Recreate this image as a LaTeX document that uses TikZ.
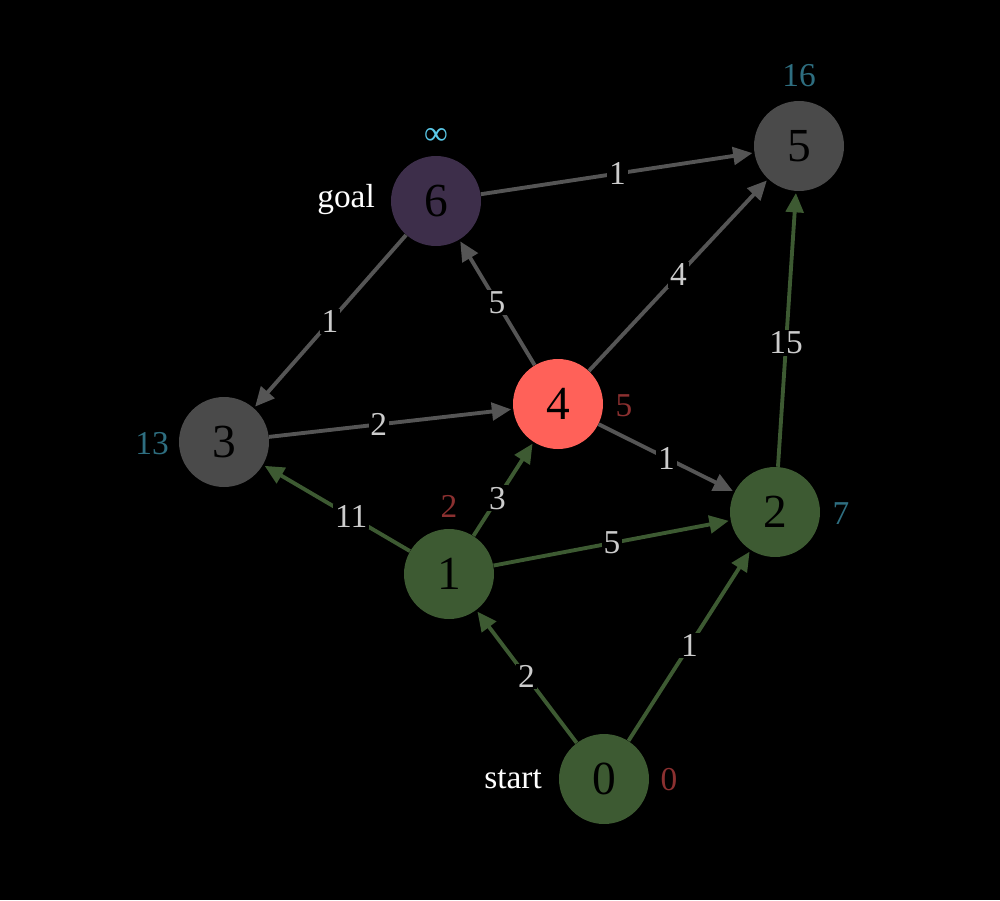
\documentclass[tikz,border=0pt]{standalone}
\usepackage{fontspec}
\setmainfont{Liberation Serif}
\usetikzlibrary{arrows.meta}
\definecolor{ngreen}{HTML}{3D5A32}
\definecolor{ngray}{HTML}{4A4A4A}
\definecolor{npurple}{HTML}{3D2E4A}
\definecolor{nred}{HTML}{FF6159}
\definecolor{egray}{HTML}{555555}
\definecolor{egreen}{HTML}{3D5A32}
\definecolor{lteal}{HTML}{2E6E80}
\definecolor{lred}{HTML}{8B3030}
\definecolor{lblue}{HTML}{5AC8E8}
\begin{document}
\begin{tikzpicture}[x=0.02cm,y=-0.02cm,
  vert/.style={circle,minimum size=1.8cm,inner sep=0pt,font=\fontsize{27}{30}\selectfont,text=black},
  ed/.style={line width=2.2pt,-{Triangle[length=11pt,width=10pt]},shorten >=1pt},
  ge/.style={ed,draw=egreen},
  ye/.style={ed,draw=egray},
  wl/.style={fill=black,inner sep=1pt,text=black!20,font=\fontsize{19}{21}\selectfont},
  dl/.style={font=\fontsize{19}{21}\selectfont}]
\fill[black] (0,0) rectangle (1000,900);
\node[vert,fill=ngreen] (n0) at (604,779) {0};
\node[vert,fill=ngreen] (n1) at (449,574) {1};
\node[vert,fill=ngreen] (n2) at (775,512) {2};
\node[vert,fill=ngray] (n3) at (224,442) {3};
\node[vert,fill=nred] (n4) at (558,404) {4};
\node[vert,fill=ngray] (n5) at (799,146) {5};
\node[vert,fill=npurple] (n6) at (436,201) {6};
\draw[ye] (n6) -- node[wl]{1} (n5);
\draw[ye] (n4) -- node[wl]{4} (n5);
\draw[ge] (n2) -- node[wl,pos=0.45]{15} (n5);
\draw[ye] (n4) -- node[wl]{5} (n6);
\draw[ye] (n6) -- node[wl]{1} (n3);
\draw[ye] (n3) -- node[wl,pos=0.45]{2} (n4);
\draw[ye] (n4) -- node[wl]{1} (n2);
\draw[ge] (n1) -- node[wl,pos=0.4]{11} (n3);
\draw[ge] (n1) -- node[wl,pos=0.4]{3} (n4);
\draw[ge] (n1) -- node[wl]{5} (n2);
\draw[ge] (n0) -- node[wl]{2} (n1);
\draw[ge] (n0) -- node[wl]{1} (n2);
\node[dl,text=lteal] (d5) at (799,76) {16};
\node[dl,text=lblue] (d6) at (436,136) {∞};
\node[dl,text=lred] (d4) at (624,406) {5};
\node[dl,text=lteal] (d3) at (152,444) {13};
\node[dl,text=lred] (d1) at (449,506) {2};
\node[dl,text=lteal] (d2) at (841,514) {7};
\node[dl,text=lred] (d0) at (669,780) {0};
\node[dl,text=white,anchor=east] (goal) at (381,200) {goal};
\node[dl,text=white,anchor=east] (start) at (548,779) {start};
\end{tikzpicture}
\end{document}
